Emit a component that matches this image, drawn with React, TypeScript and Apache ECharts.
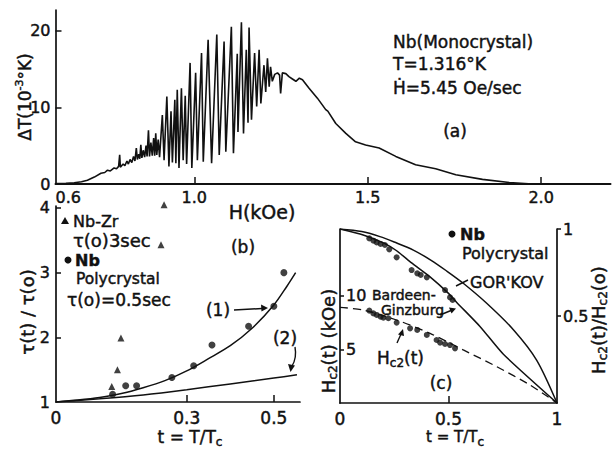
import React, { useEffect, useRef } from "react";
import * as echarts from "echarts";

const FONT = "DejaVu Sans";
const INK = "#111";

// ---------- Panel (a): Nb monocrystal, ΔT vs H ----------
const aH = [
  0.600, 0.630, 0.654, 0.675, 0.692, 0.712, 0.731, 0.742, 0.750, 0.758, 0.769, 0.776, 0.782, 0.785, 0.787,
  0.795, 0.800, 0.806, 0.810, 0.815, 0.820, 0.825, 0.829, 0.833, 0.836, 0.840, 0.843, 0.846, 0.849, 0.853,
  0.857, 0.861, 0.864, 0.868, 0.871, 0.875, 0.879, 0.883, 0.886, 0.889, 0.892, 0.896, 0.900,
  0.908, 0.913, 0.921, 0.927, 0.933, 0.937, 0.944, 0.947, 0.951, 0.956, 0.963, 0.968, 0.974, 0.978, 0.988,
  0.993, 1.004, 1.009, 1.021, 1.026, 1.040, 1.050, 1.065, 1.072, 1.086, 1.091, 1.107, 1.113, 1.124, 1.126,
  1.136, 1.142, 1.150, 1.155, 1.158, 1.165, 1.174, 1.180, 1.187, 1.192, 1.201, 1.206, 1.211, 1.216, 1.220,
  1.225, 1.232,
  1.240, 1.246, 1.249, 1.254, 1.264, 1.273, 1.283, 1.293, 1.303, 1.312, 1.331, 1.355, 1.379, 1.385, 1.408,
  1.437, 1.465, 1.494, 1.533, 1.581, 1.638, 1.696, 1.754, 1.831, 1.908, 1.975, 2.020,
];
const aDT = [
  0.05, 0.08, 0.17, 0.3, 0.5, 0.9, 1.4, 1.5, 1.8, 1.7, 2.1, 2.0, 2.3, 3.8, 2.2,
  2.6, 2.4, 3.0, 2.6, 3.2, 2.8, 3.6, 3.0, 4.7, 3.2, 3.9, 3.3, 5.1, 3.4, 4.4,
  3.5, 5.0, 3.6, 7.0, 3.6, 5.4, 3.7, 6.0, 3.7, 6.6, 3.8, 5.8, 3.5,
  9.0, 3.1, 11.4, 2.3, 9.5, 2.8, 11.0, 2.7, 12.3, 2.1, 12.5, 3.1, 11.5, 2.6, 15.8,
  2.1, 14.5, 3.1, 17.1, 2.9, 18.8, 2.7, 19.5, 3.8, 18.6, 4.2, 20.5, 4.0, 17.0, 6.8,
  21.1, 6.6, 17.5, 8.0, 20.4, 8.4, 17.1, 10.1, 17.5, 10.5, 15.5, 12.0, 16.4, 12.7, 15.3,
  13.4, 14.3,
  14.5, 14.2, 11.8, 14.5, 14.4, 14.0, 13.7, 13.4, 13.8, 13.6, 12.5, 11.2, 9.7, 9.5, 7.9,
  6.6, 5.5, 5.1, 4.7, 3.6, 2.5, 2.0, 1.2, 0.6, 0.2, 0.0, 0.0,
];
const aXTickLabels = [0.6, 1.0, 1.5, 2.0];
const aYTickLabels = [0, 10, 20];

// ---------- Panel (b): τ(t)/τ(o) vs t ----------
const bTriT = [0.128, 0.141, 0.149, 0.241, 0.248];
const bTriV = [1.24, 1.5, 1.99, 3.43, 4.05];
const bDotT = [0.13, 0.16, 0.185, 0.266, 0.316, 0.358, 0.442, 0.5, 0.523];
const bDotV = [1.12, 1.25, 1.25, 1.38, 1.56, 1.88, 2.17, 2.48, 3.0];
const bCurve1T = [0, 0.05, 0.1, 0.15, 0.2, 0.25, 0.3, 0.35, 0.4, 0.45, 0.5, 0.53, 0.55];
const bCurve1V = [1.0, 1.03, 1.07, 1.13, 1.22, 1.33, 1.48, 1.67, 1.87, 2.14, 2.5, 2.79, 3.0];
const bCurve2T = [0, 0.1, 0.2, 0.3, 0.4, 0.5, 0.553];
const bCurve2V = [1.0, 1.05, 1.11, 1.19, 1.28, 1.37, 1.42];
const bXTickLabels = [0, 0.3, 0.5];
const bYTickLabels = [1, 2, 3, 4];

// ---------- Panel (c): Hc2(t) vs t ----------
const cGorT = [0, 0.1, 0.184, 0.25, 0.338, 0.42, 0.49, 0.568, 0.676, 0.8, 0.906, 1];
const cGorV = [1, 0.985, 0.956, 0.925, 0.879, 0.82, 0.76, 0.688, 0.573, 0.42, 0.247, 0];
const cBgT = [0, 0.107, 0.2, 0.261, 0.33, 0.415, 0.5, 0.538, 0.645, 0.753, 1];
const cBgV = [1, 0.966, 0.92, 0.875, 0.805, 0.725, 0.63, 0.578, 0.44, 0.28, 0];
const cHcT = [0, 0.107, 0.261, 0.415, 0.568, 0.722, 0.876, 1];
const cHcV = [0.55, 0.534, 0.477, 0.4, 0.305, 0.209, 0.103, 0];
const cUpT = [0.135, 0.154, 0.169, 0.187, 0.207, 0.227, 0.261, 0.33, 0.356, 0.372, 0.4, 0.484, 0.507, 0.519];
const cUpV = [0.946, 0.933, 0.923, 0.914, 0.908, 0.883, 0.837, 0.764, 0.745, 0.736, 0.722, 0.649, 0.607, 0.592];
const cLoT = [0.135, 0.154, 0.169, 0.187, 0.2, 0.223, 0.261, 0.323, 0.356, 0.4, 0.445, 0.461, 0.484, 0.507, 0.53];
const cLoV = [0.531, 0.515, 0.506, 0.496, 0.49, 0.487, 0.462, 0.429, 0.42, 0.391, 0.362, 0.347, 0.339, 0.333, 0.314];
const cXTickLabels = [0, 0.5, 1];
const cLeftTickLabels = [5, 10];
const cRightTickLabels = [0.5, 1];

const zip = (xs: number[], ys: number[]) => xs.map((x, i) => [x, ys[i]]);

const INKW = 0.45;

const txt = (x: number, y: number, text: string, fontSize: number, extra: any = {}, el: any = {}) => ({
  type: "text",
  x,
  y,
  silent: true,
  ...el,
  style: {
    text,
    fontSize,
    fontFamily: FONT,
    fill: INK,
    stroke: INK,
    lineWidth: INKW,
    align: "left",
    textAlign: "left",
    verticalAlign: "middle",
    textVerticalAlign: "middle",
    ...extra,
  },
});

const RICH = {
  sup: { fontSize: 11, lineHeight: 11, verticalAlign: "top", fontFamily: FONT, color: INK },
  sub: { fontSize: 12, lineHeight: 12, verticalAlign: "bottom", fontFamily: FONT, color: INK },
};

const line = (x1: number, y1: number, x2: number, y2: number) => ({
  type: "line",
  silent: true,
  shape: { x1, y1, x2, y2 },
  style: { stroke: INK, lineWidth: 1.4 },
});
const tri = (pts: number[][]) => ({ type: "polygon", silent: true, shape: { points: pts }, style: { fill: INK } });

const lbl = (fontSize: number, margin: number, extra: any = {}) => ({
  fontSize,
  margin,
  color: INK,
  fontFamily: FONT,
  textBorderColor: INK,
  textBorderWidth: INKW,
  ...extra,
});

const axisCommon = {
  splitLine: { show: false },
  axisLine: { show: true, onZero: false, lineStyle: { color: INK, width: 1.7 } },
};

export default function App() {
  const ref = useRef<HTMLDivElement>(null);
  useEffect(() => {
    if (!ref.current) return;
    const chart = echarts.init(ref.current, null, { renderer: "svg" });
    const option: any = {
      animation: false,
      backgroundColor: "#fff",
      textStyle: { fontFamily: FONT, color: INK },
      grid: [
        { left: 55.5, right: 2.5, top: 10, bottom: 269, outerBoundsMode: "none" },
        { left: 56, right: 313, top: 206, bottom: 51, outerBoundsMode: "none" },
        { left: 340, right: 56, top: 229, bottom: 50, outerBoundsMode: "none" },
      ],
      xAxis: [
        {
          ...axisCommon,
          gridIndex: 0,
          type: "value",
          min: 0.6,
          max: 2.2,
          axisLine: { show: true, onZero: false, lineStyle: { color: INK, width: 2 } },
          axisTick: { inside: true, length: 7, customValues: [1.0, 1.5, 2.0], lineStyle: { color: INK, width: 1.5 } },
          axisLabel: lbl(16, 5, {
            customValues: aXTickLabels,
            formatter: (v: number) => v.toFixed(1),
            alignMinLabel: "left",
          }),
        },
        {
          ...axisCommon,
          gridIndex: 1,
          type: "value",
          min: 0,
          max: 0.56,
          axisTick: { inside: true, length: 7, customValues: [0.3, 0.5], lineStyle: { color: INK, width: 1.5 } },
          axisLabel: lbl(17, 7, { customValues: bXTickLabels }),
        },
        {
          ...axisCommon,
          gridIndex: 2,
          type: "value",
          min: 0,
          max: 1,
          axisTick: { inside: true, length: 7, customValues: [0.5], lineStyle: { color: INK, width: 1.5 } },
          axisLabel: lbl(17, 7, { customValues: cXTickLabels }),
        },
      ],
      yAxis: [
        {
          ...axisCommon,
          gridIndex: 0,
          type: "value",
          min: 0,
          max: 22.7,
          axisTick: { inside: true, length: 6, customValues: [10, 20], lineStyle: { color: INK, width: 1.5 } },
          axisLabel: lbl(16, 5, { customValues: aYTickLabels }),
        },
        {
          ...axisCommon,
          gridIndex: 1,
          type: "value",
          min: 1,
          max: 4.03,
          axisTick: { inside: true, length: 5, customValues: [2, 3, 4], lineStyle: { color: INK, width: 1.5 } },
          axisLabel: lbl(16, 6, { customValues: bYTickLabels }),
        },
        {
          ...axisCommon,
          gridIndex: 2,
          type: "value",
          position: "left",
          min: 0,
          max: 16.2,
          axisTick: { inside: true, length: 4, customValues: [5, 10], lineStyle: { color: INK, width: 1.5 } },
          axisLabel: lbl(16, 6, { inside: true, customValues: cLeftTickLabels }),
        },
        {
          ...axisCommon,
          gridIndex: 2,
          type: "value",
          position: "right",
          min: 0,
          max: 1,
          axisTick: { inside: false, length: 4, customValues: [0.5, 1], lineStyle: { color: INK, width: 1.5 } },
          axisLabel: lbl(16, 6, { customValues: cRightTickLabels }),
        },
      ],
      series: [
        {
          name: "ΔT",
          type: "line",
          xAxisIndex: 0,
          yAxisIndex: 0,
          data: zip(aH, aDT),
          showSymbol: false,
          lineStyle: { color: INK, width: 1.6 },
          clip: false,
        },
        {
          name: "(1)",
          type: "line",
          xAxisIndex: 1,
          yAxisIndex: 1,
          data: zip(bCurve1T, bCurve1V),
          smooth: 0.3,
          showSymbol: false,
          lineStyle: { color: INK, width: 1.5 },
        },
        {
          name: "(2)",
          type: "line",
          xAxisIndex: 1,
          yAxisIndex: 1,
          data: zip(bCurve2T, bCurve2V),
          smooth: 0.3,
          showSymbol: false,
          lineStyle: { color: INK, width: 1.5 },
        },
        {
          name: "Nb-Zr",
          type: "scatter",
          xAxisIndex: 1,
          yAxisIndex: 1,
          data: zip(bTriT, bTriV),
          symbol: "triangle",
          symbolSize: 7,
          itemStyle: { color: INK },
          clip: false,
        },
        {
          name: "Nb polycrystal (b)",
          type: "scatter",
          xAxisIndex: 1,
          yAxisIndex: 1,
          data: zip(bDotT, bDotV),
          symbol: "circle",
          symbolSize: 7,
          itemStyle: { color: INK },
          clip: false,
        },
        {
          name: "GOR'KOV",
          type: "line",
          xAxisIndex: 2,
          yAxisIndex: 3,
          data: zip(cGorT, cGorV),
          smooth: 0.3,
          showSymbol: false,
          lineStyle: { color: INK, width: 1.5 },
        },
        {
          name: "Bardeen-Ginzburg",
          type: "line",
          xAxisIndex: 2,
          yAxisIndex: 3,
          data: zip(cBgT, cBgV),
          smooth: 0.2,
          showSymbol: false,
          lineStyle: { color: INK, width: 1.5 },
        },
        {
          name: "Hc2(t)",
          type: "line",
          xAxisIndex: 2,
          yAxisIndex: 3,
          data: zip(cHcT, cHcV),
          smooth: 0.3,
          showSymbol: false,
          lineStyle: { color: INK, width: 1.3, type: [8, 5] },
        },
        {
          name: "Nb upper",
          type: "scatter",
          xAxisIndex: 2,
          yAxisIndex: 3,
          data: zip(cUpT, cUpV),
          symbolSize: 6,
          itemStyle: { color: INK },
        },
        {
          name: "Nb lower",
          type: "scatter",
          xAxisIndex: 2,
          yAxisIndex: 3,
          data: zip(cLoT, cLoV),
          symbolSize: 6,
          itemStyle: { color: INK },
        },
      ],
      graphic: [
        // panel (a)
        txt(393, 42, "Nb(Monocrystal)", 17),
        txt(393, 64, "T=1.316°K", 17),
        txt(393, 88, "Ḣ=5.45 Oe/sec", 17),
        txt(455, 131, "(a)", 17, { align: "center", textAlign: "center" }),
        txt(262, 212, "H(kOe)", 19, { align: "center", textAlign: "center" }),
        txt(25, 97, "ΔT(10{sup|-3}°K)", 17, { align: "center", textAlign: "center", lineHeight: 22, rich: RICH }, { rotation: Math.PI / 2 }),
        // panel (b)
        tri([[65, 217], [61, 224], [69, 224]]),
        txt(73, 221, "Nb-Zr", 16),
        txt(73, 240, "τ(o)3sec", 18),
        { type: "circle", silent: true, shape: { cx: 68, cy: 260, r: 3.5 }, style: { fill: INK } },
        txt(75, 260, "Nb", 16, { fontWeight: "bold" }),
        txt(76, 279, "Polycrystal", 15.5),
        txt(67, 300, "τ(o)=0.5sec", 17),
        txt(243, 247, "(b)", 17, { align: "center", textAlign: "center" }),
        txt(218, 310, "(1)", 17, { align: "center", textAlign: "center" }),
        line(234, 310, 262, 308.5),
        tri([[268, 308], [261, 304.5], [261.5, 311.5]]),
        txt(285, 338, "(2)", 17, { align: "center", textAlign: "center" }),
        { type: "bezierCurve", silent: true, shape: { x1: 295, y1: 347, cpx1: 297, cpy1: 358, x2: 292, y2: 366 }, style: { stroke: INK, lineWidth: 1.4, fill: "none" } },
        tri([[290.5, 372], [288, 364], [295, 365.5]]),
        txt(27, 312, "τ(t) / τ(o)", 18, { align: "center", textAlign: "center" }, { rotation: Math.PI / 2 }),
        txt(190, 437, "t = T/T{sub|c}", 17, { align: "center", textAlign: "center", lineHeight: 22, rich: RICH }),
        // panel (c)
        { type: "circle", silent: true, shape: { cx: 452, cy: 234, r: 3.5 }, style: { fill: INK } },
        txt(460, 234, "Nb", 16, { fontWeight: "bold" }),
        txt(462, 253, "Polycrystal", 16),
        line(456, 286, 468, 280),
        txt(470, 282, "GOR'KOV", 16),
        txt(372, 295, "Bardeen-", 14),
        txt(381, 310, "Ginzburg", 14),
        line(440, 315, 451, 310.5),
        tri([[456, 308.5], [449, 307.5], [451.5, 313.5]]),
        txt(377, 358, "H{sub|c2}(t)", 17, { lineHeight: 22, rich: RICH }),
        line(397, 343, 401, 334),
        tri([[403, 329], [398, 334.5], [404, 336]]),
        txt(441, 383, "(c)", 17, { align: "center", textAlign: "center" }),
        txt(328, 341, "H{sub|c2}(t) (kOe)", 18, { align: "center", textAlign: "center", lineHeight: 22, rich: RICH }, { rotation: Math.PI / 2 }),
        txt(598, 320, "H{sub|c2}(t)/H{sub|c2}(o)", 18, { align: "center", textAlign: "center", lineHeight: 22, rich: RICH }, { rotation: Math.PI / 2 }),
        txt(455, 437, "t = T/T{sub|c}", 15, { align: "center", textAlign: "center", lineHeight: 22, rich: RICH }),
      ],
    };
    chart.setOption(option);
    return () => chart.dispose();
  }, []);
  return <div ref={ref} style={{ position: "absolute", left: 0, top: 0, width: 613, height: 453 }} />;
}
